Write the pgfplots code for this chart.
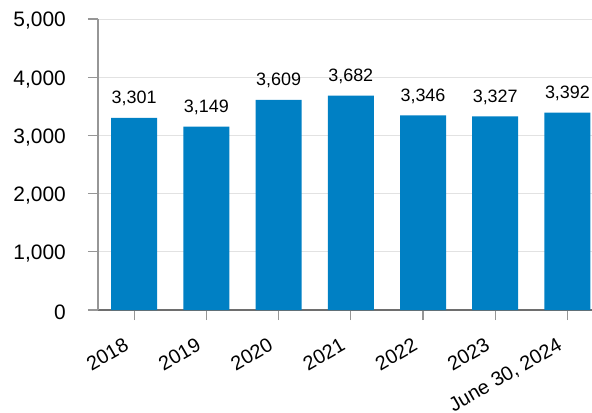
\documentclass[border=0pt]{standalone}
\usepackage{pgfplots}
\pgfplotsset{compat=1.18}
\usepackage{fontspec}
\setmainfont{Liberation Sans}
\definecolor{barblue}{RGB}{0,128,196}
\definecolor{gridgray}{RGB}{226,226,226}
\definecolor{leftgray}{RGB}{150,150,150}
\definecolor{botgray}{RGB}{110,110,110}
\begin{document}
\begin{tikzpicture}
\begin{axis}[name=ax, at={(0,0)}, anchor=south west,
  scale only axis, width=494bp, height=291bp,
  xmin=-0.5, xmax=6.34, ymin=0, ymax=5000,
  ybar, bar width=46bp, bar shift=0pt,
  xtick={0,...,6},
  xticklabels={2018,2019,2020,2021,2022,2023,{June 30, 2024}},
  ytick={0,1000,...,5000},
  scaled y ticks=false,
  /pgf/number format/assume math mode=true,
  /pgf/number format/1000 sep={,},
  axis x line*=bottom, axis y line*=left,
  xtick pos=bottom, ytick pos=left,
  x axis line style={draw=botgray, line width=1.2bp, -},
  y axis line style={draw=leftgray, line width=1.2bp, -},
  tick align=outside, major tick length=10bp,
  xtick style={draw=leftgray, line width=1.2bp},
  ytick style={draw=leftgray, line width=1.2bp},
  ymajorgrids, grid style={draw=gridgray, line width=1bp},
  yticklabel style={font=\fontsize{21}{24}\selectfont, anchor=east, inner sep=0pt, xshift=-22bp, yshift=-2bp},
  xticklabel style={font=\fontsize{20}{24}\selectfont, rotate=30, anchor=north east, inner sep=0pt, yshift=-9bp, xshift=-18bp},
  nodes near coords,
  nodes near coords style={font=\fontsize{18}{21}\selectfont, anchor=base, inner sep=0pt, yshift=14bp, text=black},
  clip=false,
]
\addplot[fill=barblue, draw=none] coordinates {
  (0,3301) (1,3149) (2,3609) (3,3682) (4,3346) (5,3327) (6,3392)
};
\end{axis}
\pgfresetboundingbox
\path (ax.south west) ++(-98bp,-103bp) rectangle ++(592bp,413bp);
\end{tikzpicture}
\end{document}
